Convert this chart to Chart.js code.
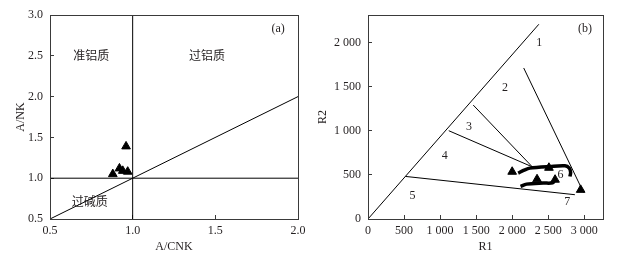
<!DOCTYPE html>
<html>
<head>
<meta charset="utf-8">
<script src="https://cdn.jsdelivr.net/npm/chart.js@4/dist/chart.umd.min.js"></script>
<style>
  html, body { margin: 0; padding: 0; background: #fff; }
  #wrap { position: relative; width: 626px; height: 259px; }
  #boxA { position: absolute; left: 0; top: 0; width: 310px; height: 259px; }
  #boxB { position: absolute; left: 310px; top: 0; width: 316px; height: 259px; }
</style>
</head>
<body>
<div id="wrap">
  <div id="boxA"><canvas id="chartA" width="310" height="259"></canvas></div>
  <div id="boxB"><canvas id="chartB" width="316" height="259"></canvas></div>
</div>
<script>
// (a) A/CNK - A/NK
const ticksA_x = [0.5, 1.0, 1.5, 2.0];
const ticksA_y = [0.5, 1.0, 1.5, 2.0, 2.5, 3.0];
const samplesA_acnk = [0.96, 0.92, 0.88, 0.94, 0.97];
const samplesA_ank = [1.39, 1.12, 1.05, 1.09, 1.08];
const hLineA = { x: [0.5, 2.0], y: [1.0, 1.0] };
const vLineA = { x: [1.0, 1.0], y: [0.5, 3.0] };
const diagA = { x: [0.5, 2.0], y: [0.5, 2.0] };
const labelsA = [
  { text: '准铝质', x: 0.75, y: 2.5, cjk: true },
  { text: '过铝质', x: 1.45, y: 2.5, cjk: true },
  { text: '过碱质', x: 0.74, y: 0.71, cjk: true },
  { text: '(a)', x: 1.88, y: 2.83 }
];

// (b) R1 - R2
const ticksB_x = [0, 500, 1000, 1500, 2000, 2500, 3000];
const ticksB_xText = ['0', '500', '1 000', '1 500', '2 000', '2 500', '3 000'];
const ticksB_y = [0, 500, 1000, 1500, 2000];
const ticksB_yText = ['0', '500', '1 000', '1 500', '2 000'];
const samplesB_r1 = [2000, 2510, 2345, 2595, 2950];
const samplesB_r2 = [535, 580, 450, 445, 330];
const boundsB = [
  { r1: [0, 2370], r2: [0, 2205] },
  { r1: [2160, 2990], r2: [1710, 300] },
  { r1: [1460, 2280], r2: [1290, 590] },
  { r1: [1120, 2280], r2: [1000, 590] },
  { r1: [520, 2870], r2: [482, 275] }
];
const trendUpper_r1 = [2083, 2176, 2246, 2524, 2732, 2792, 2811, 2801];
const trendUpper_r2 = [520, 557, 576, 594, 602, 576, 527, 481];
const trendLower_r1 = [2116, 2200, 2431, 2561, 2593];
const trendLower_r2 = [369, 395, 407, 410, 444];
const labelsB = [
  { text: '1', x: 2375, y: 1995 },
  { text: '2', x: 1900, y: 1480 },
  { text: '3', x: 1400, y: 1040 },
  { text: '4', x: 1065, y: 715 },
  { text: '5', x: 617, y: 263 },
  { text: '6', x: 2670, y: 500 },
  { text: '7', x: 2765, y: 190 },
  { text: '(b)', x: 3010, y: 2150 }
];

const INK = '#231f20';
const AXIS = '#3a3a3a';
const SERIF = '"Liberation Serif", "Times New Roman", serif';
const CJK = '"Noto Sans CJK SC", sans-serif';

const zip = (xs, ys) => xs.map((x, i) => ({ x, y: ys[i] }));

function lineDs(xs, ys, width, tension) {
  return {
    type: 'scatter',
    data: zip(xs, ys),
    showLine: true,
    borderColor: '#000',
    borderWidth: width || 1,
    pointRadius: 0,
    tension: tension || 0,
    fill: false
  };
}

function pointDs(xs, ys) {
  return {
    type: 'scatter',
    data: zip(xs, ys),
    pointStyle: 'triangle',
    pointRadius: 5,
    backgroundColor: '#000',
    borderColor: '#000',
    borderWidth: 1
  };
}

// frame + text labels
const framePlugin = {
  id: 'frame',
  afterDatasetsDraw(chart, args, opts) {
    const { ctx, chartArea: a, scales } = chart;
    ctx.save();
    ctx.strokeStyle = AXIS;
    ctx.lineWidth = 1;
    ctx.strokeRect(Math.round(a.left) + 0.5, Math.round(a.top) + 0.5,
      Math.round(a.right - a.left), Math.round(a.bottom - a.top));
    ctx.fillStyle = INK;
    ctx.textAlign = 'center';
    ctx.textBaseline = 'middle';
    (opts.labels || []).forEach((l) => {
      ctx.font = l.cjk ? '12px ' + CJK : '12px ' + SERIF;
      ctx.fillText(l.text, scales.x.getPixelForValue(l.x), scales.y.getPixelForValue(l.y));
    });
    ctx.restore();
  }
};

function axis(opts) {
  return {
    type: 'linear',
    position: opts.position,
    min: opts.min,
    max: opts.max,
    afterBuildTicks: (s) => { s.ticks = opts.ticks.map((v) => ({ value: v })); },
    afterFit: (s) => {
      if (opts.position === 'left') s.width = opts.size; else s.height = opts.size;
      // layout padding already leaves room for end labels
      s.paddingLeft = s.paddingRight = s.paddingTop = s.paddingBottom = 0;
    },
    border: { color: AXIS, width: 1 },
    grid: { drawOnChartArea: false, drawTicks: true, tickLength: -4, color: AXIS },
    ticks: {
      padding: opts.pad,
      color: INK,
      font: { family: SERIF, size: 12 },
      maxRotation: 0,
      autoSkip: false,
      callback: opts.fmt
    },
    title: {
      display: true,
      text: opts.title,
      color: INK,
      font: { family: SERIF, size: 12 },
      padding: opts.titlePad
    }
  };
}

function baseOptions(layoutPad, xAxis, yAxis, labels) {
  return {
    responsive: false,
    animation: false,
    devicePixelRatio: 1,
    layout: { padding: layoutPad, autoPadding: false },
    plugins: { legend: { display: false }, tooltip: { enabled: false }, frame: { labels } },
    scales: { x: xAxis, y: yAxis }
  };
}

new Chart(document.getElementById('chartA'), {
  type: 'scatter',
  data: {
    datasets: [
      lineDs(hLineA.x, hLineA.y),
      lineDs(vLineA.x, vLineA.y),
      lineDs(diagA.x, diagA.y),
      pointDs(samplesA_acnk, samplesA_ank)
    ]
  },
  options: baseOptions(
    { left: 0, right: 12, top: 15, bottom: 0 },
    axis({ position: 'bottom', min: 0.5, max: 2.0, ticks: ticksA_x, size: 40, pad: 9,
      fmt: (v) => v.toFixed(1), title: 'A/CNK', titlePad: { top: 0, bottom: 5 } }),
    axis({ position: 'left', min: 0.5, max: 3.0, ticks: ticksA_y, size: 50, pad: 11,
      fmt: (v) => v.toFixed(1), title: 'A/NK', titlePad: { top: 14, bottom: 0 } }),
    labelsA
  ),
  plugins: [framePlugin]
});

new Chart(document.getElementById('chartB'), {
  type: 'scatter',
  data: {
    datasets: [
      ...boundsB.map((b) => lineDs(b.r1, b.r2)),
      lineDs(trendUpper_r1, trendUpper_r2, 3.5, 0.3),
      lineDs(trendLower_r1, trendLower_r2, 3.5, 0.3),
      pointDs(samplesB_r1, samplesB_r2)
    ]
  },
  options: baseOptions(
    { left: 0, right: 23, top: 15, bottom: 0 },
    axis({ position: 'bottom', min: 0, max: 3260, ticks: ticksB_x, size: 40, pad: 9,
      fmt: (v) => ticksB_xText[ticksB_x.indexOf(v)], title: 'R1', titlePad: { top: 0, bottom: 5 } }),
    axis({ position: 'left', min: 0, max: 2310, ticks: ticksB_y, size: 58, pad: 11,
      fmt: (v) => ticksB_yText[ticksB_y.indexOf(v)], title: 'R2', titlePad: { top: 6, bottom: 0 } }),
    labelsB
  ),
  plugins: [framePlugin]
});
</script>
</body>
</html>
